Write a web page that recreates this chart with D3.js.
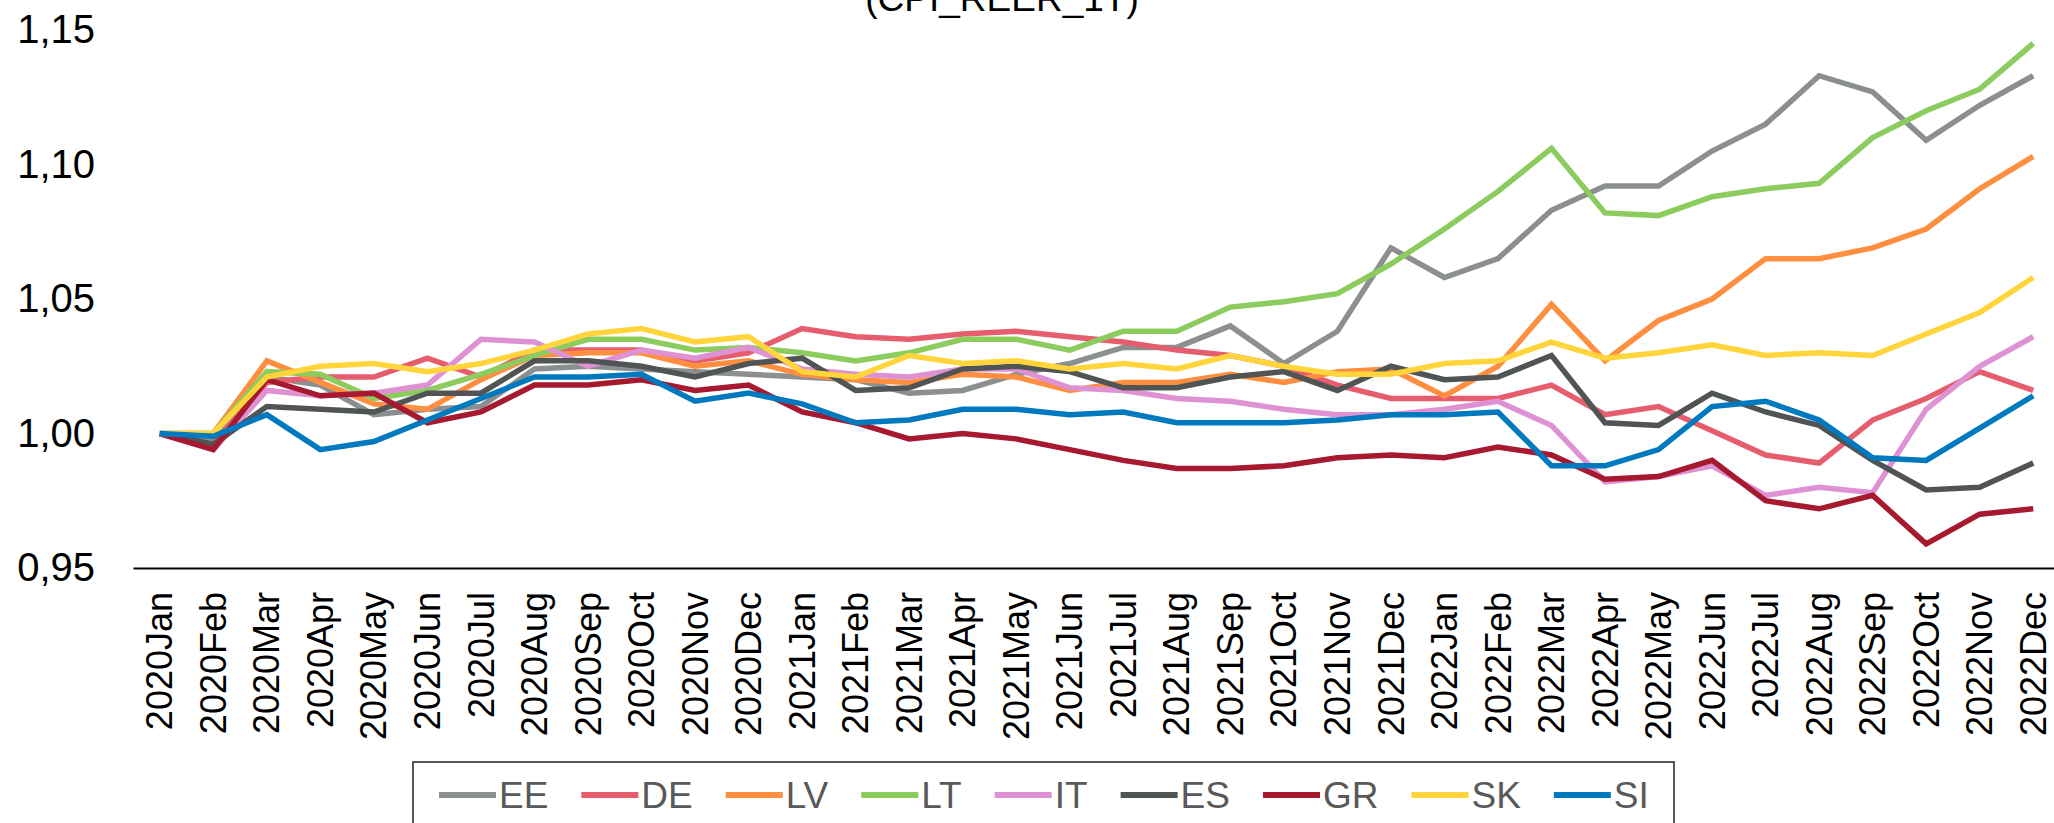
<!DOCTYPE html>
<html>
<head>
<meta charset="utf-8">
<script src="https://cdn.jsdelivr.net/npm/d3@7"></script>
<style>
  html, body { margin: 0; padding: 0; background: #fff; }
  svg { display: block; font-family: "Liberation Sans", Arial, sans-serif; }
</style>
</head>
<body>
<div id="chart"></div>
<script>
// tick labels
const years = ["2020", "2021", "2022"];
const monthNames = ["Jan", "Feb", "Mar", "Apr", "May", "Jun", "Jul", "Aug", "Sep", "Oct", "Nov", "Dec"];
const months = years.flatMap(y => monthNames.map(m => y + m));
const yTicks = [0.95, 1.00, 1.05, 1.10, 1.15];

// series
const EE = [1.000, 0.997, 1.021, 1.018, 1.007, 1.009, 1.010, 1.024, 1.025, 1.024, 1.023, 1.022,
            1.021, 1.020, 1.015, 1.016, 1.022, 1.026, 1.032, 1.032, 1.040, 1.026, 1.038, 1.069,
            1.058, 1.065, 1.083, 1.092, 1.092, 1.105, 1.115, 1.133, 1.127, 1.109, 1.122, 1.133];
const DE = [1.000, 0.996, 1.019, 1.021, 1.021, 1.028, 1.021, 1.031, 1.031, 1.031, 1.027, 1.030,
            1.039, 1.036, 1.035, 1.037, 1.038, 1.036, 1.034, 1.031, 1.029, 1.025, 1.018, 1.013,
            1.013, 1.013, 1.018, 1.007, 1.010, 1.001, 0.992, 0.989, 1.005, 1.013, 1.023, 1.016];
const LV = [1.000, 1.000, 1.027, 1.019, 1.011, 1.009, 1.020, 1.029, 1.030, 1.030, 1.025, 1.027,
            1.022, 1.020, 1.019, 1.022, 1.021, 1.016, 1.019, 1.019, 1.022, 1.019, 1.023, 1.024,
            1.014, 1.025, 1.048, 1.027, 1.042, 1.050, 1.065, 1.065, 1.069, 1.076, 1.091, 1.103];
const LT = [1.000, 1.000, 1.023, 1.022, 1.013, 1.016, 1.022, 1.029, 1.035, 1.035, 1.031, 1.032,
            1.030, 1.027, 1.030, 1.035, 1.035, 1.031, 1.038, 1.038, 1.047, 1.049, 1.052, 1.063,
            1.076, 1.090, 1.106, 1.082, 1.081, 1.088, 1.091, 1.093, 1.110, 1.120, 1.128, 1.145];
const IT = [1.000, 0.994, 1.016, 1.014, 1.015, 1.018, 1.035, 1.034, 1.025, 1.031, 1.028, 1.032,
            1.024, 1.022, 1.021, 1.024, 1.024, 1.017, 1.016, 1.013, 1.012, 1.009, 1.007, 1.007,
            1.009, 1.012, 1.003, 0.982, 0.984, 0.988, 0.977, 0.980, 0.978, 1.009, 1.025, 1.036];
const ES = [1.000, 0.996, 1.010, 1.009, 1.008, 1.015, 1.015, 1.027, 1.027, 1.025, 1.021, 1.026,
            1.028, 1.016, 1.017, 1.024, 1.025, 1.023, 1.017, 1.017, 1.021, 1.023, 1.016, 1.025,
            1.020, 1.021, 1.029, 1.004, 1.003, 1.015, 1.008, 1.003, 0.990, 0.979, 0.980, 0.989];
const GR = [1.000, 0.994, 1.020, 1.014, 1.015, 1.004, 1.008, 1.018, 1.018, 1.020, 1.016, 1.018,
            1.008, 1.004, 0.998, 1.000, 0.998, 0.994, 0.990, 0.987, 0.987, 0.988, 0.991, 0.992,
            0.991, 0.995, 0.992, 0.983, 0.984, 0.990, 0.975, 0.972, 0.977, 0.959, 0.970, 0.972];
const SK = [1.000, 1.000, 1.021, 1.025, 1.026, 1.023, 1.026, 1.031, 1.037, 1.039, 1.034, 1.036,
            1.023, 1.021, 1.029, 1.026, 1.027, 1.024, 1.026, 1.024, 1.029, 1.025, 1.022, 1.022,
            1.026, 1.027, 1.034, 1.028, 1.030, 1.033, 1.029, 1.030, 1.029, 1.037, 1.045, 1.058];
const SI = [1.000, 0.999, 1.007, 0.994, 0.997, 1.005, 1.013, 1.021, 1.021, 1.022, 1.012, 1.015,
            1.011, 1.004, 1.005, 1.009, 1.009, 1.007, 1.008, 1.004, 1.004, 1.004, 1.005, 1.007,
            1.007, 1.008, 0.988, 0.988, 0.994, 1.010, 1.012, 1.005, 0.991, 0.990, 1.002, 1.014];

const seriesNames = ["EE", "DE", "LV", "LT", "IT", "ES", "GR", "SK", "SI"];
const seriesValues = [EE, DE, LV, LT, IT, ES, GR, SK, SI];
const colors = ["#8b8f90", "#e65d6e", "#ff8f40", "#8ccb5e", "#de92d4", "#505454", "#a6192e", "#ffd53b", "#0079be"];

const series = seriesNames.map((name, i) => ({ name, color: colors[i], values: seriesValues[i] }));

const width = 2054, height = 823;
const plot = { left: 133, right: 2060, top: 30, bottom: 568 };

const svg = d3.select("#chart")
    .append("svg")
    .attr("width", width)
    .attr("height", height);

// Title, top half falls outside the picture
svg.append("text")
    .attr("x", 1002)
    .attr("y", 11)
    .attr("text-anchor", "middle")
    .attr("font-size", 37)
    .attr("fill", "#000")
    .text("(CPI_REER_1T)");

// Scales
const x = d3.scaleBand().domain(months).range([plot.left, plot.right]);
const y = d3.scaleLinear().domain([0.95, 1.15]).range([plot.bottom, plot.top]);
const cx = d => x(d) + x.bandwidth() / 2;

// Y axis, labels only
const yAxis = svg.append("g")
    .attr("transform", `translate(${plot.left},0)`)
    .call(d3.axisLeft(y)
        .tickValues(yTicks)
        .tickSize(0)
        .tickPadding(38)
        .tickFormat(d => d3.format(".2f")(d).replace(".", ",")));
yAxis.select(".domain").remove();
yAxis.selectAll("text")
    .attr("font-size", 40)
    .attr("font-family", "Liberation Sans, Arial, sans-serif")
    .attr("fill", "#000");

// X axis
const xAxis = svg.append("g")
    .attr("transform", `translate(0,${plot.bottom})`)
    .call(d3.axisBottom(x).tickSize(0).tickSizeOuter(0));
xAxis.select(".domain")
    .attr("stroke", "#000")
    .attr("stroke-width", 2);
xAxis.selectAll("text")
    .attr("font-size", 36)
    .attr("font-family", "Liberation Sans, Arial, sans-serif")
    .attr("fill", "#000")
    .attr("transform", "rotate(-90)")
    .attr("text-anchor", "end")
    .attr("x", -24)
    .attr("y", 0)
    .attr("dy", "0.35em");

// Lines
const line = d3.line()
    .x((d, i) => cx(months[i]))
    .y(d => y(d));

svg.append("g")
    .selectAll("path")
    .data(series)
    .join("path")
    .attr("d", d => line(d.values))
    .attr("fill", "none")
    .attr("stroke", d => d.color)
    .attr("stroke-width", 5.5)
    .attr("stroke-linejoin", "miter");

// Legend
const legendBox = { x: 413, y: 762, w: 1261, h: 90 };
const swatch = 57, gap = 3, itemGap = 33, legendFont = 37;
const legendY = 795;

svg.append("rect")
    .attr("x", legendBox.x)
    .attr("y", legendBox.y)
    .attr("width", legendBox.w)
    .attr("height", legendBox.h)
    .attr("fill", "#fff")
    .attr("stroke", "#222")
    .attr("stroke-width", 1.5);

const legend = svg.append("g");
let lx = 439;
series.forEach(s => {
    const item = legend.append("g").attr("transform", `translate(${lx},${legendY})`);
    item.append("line")
        .attr("x1", 0)
        .attr("x2", swatch)
        .attr("stroke", s.color)
        .attr("stroke-width", 6);
    const t = item.append("text")
        .attr("x", swatch + gap)
        .attr("dy", "0.35em")
        .attr("font-size", legendFont)
        .attr("fill", "#595959")
        .text(s.name);
    lx += swatch + gap + t.node().getComputedTextLength() + itemGap;
});
</script>
</body>
</html>
